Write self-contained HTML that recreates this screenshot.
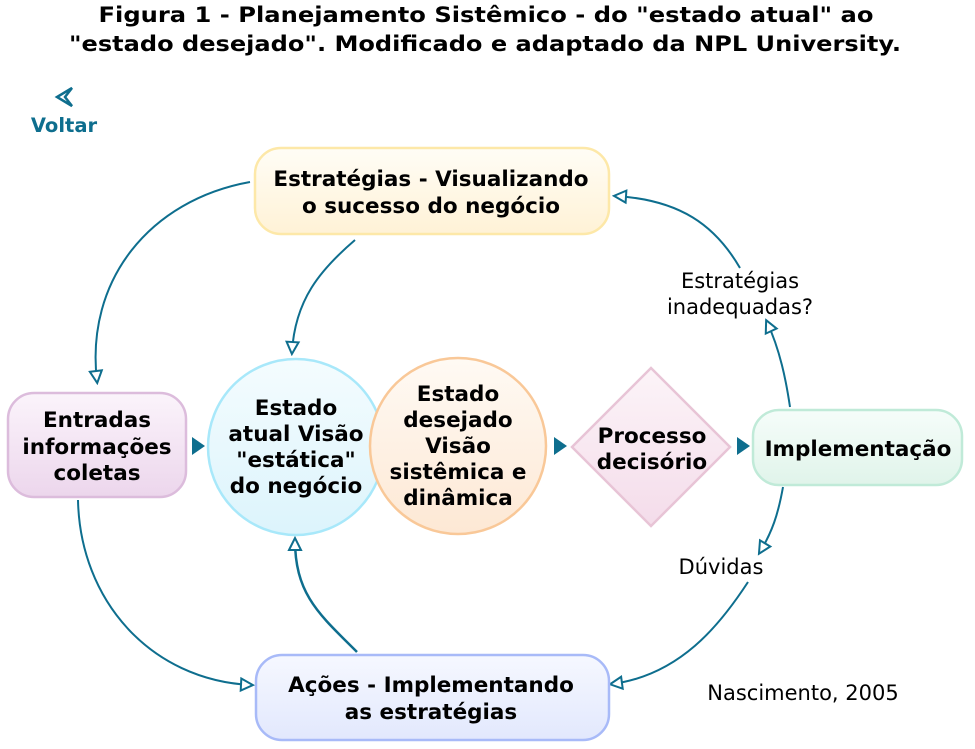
<!DOCTYPE html>
<html><head><meta charset="utf-8"><style>
html,body{margin:0;padding:0;background:#fff;}
svg{display:block;}
.b{font-family:"DejaVu Sans","Liberation Sans",sans-serif;font-weight:bold;fill:#000;}
.n{font-family:"DejaVu Sans","Liberation Sans",sans-serif;fill:#000;}
</style></head><body>
<svg width="975" height="749" viewBox="0 0 975 749" xmlns="http://www.w3.org/2000/svg">
<defs>
<linearGradient id="gy" x1="0" y1="0" x2="0" y2="1"><stop offset="0" stop-color="#fffdf6"/><stop offset="1" stop-color="#fff2d6"/></linearGradient>
<linearGradient id="gp" x1="0" y1="0" x2="0" y2="1"><stop offset="0" stop-color="#fbf4fb"/><stop offset="1" stop-color="#ecd6ec"/></linearGradient>
<linearGradient id="gc" x1="0" y1="0" x2="0" y2="1"><stop offset="0" stop-color="#f4fcfe"/><stop offset="1" stop-color="#dcf4fc"/></linearGradient>
<linearGradient id="go" x1="0" y1="0" x2="0" y2="1"><stop offset="0" stop-color="#fffaf4"/><stop offset="1" stop-color="#fde8d4"/></linearGradient>
<linearGradient id="gd" x1="0" y1="0" x2="0" y2="1"><stop offset="0" stop-color="#fcf4f8"/><stop offset="1" stop-color="#f4dcea"/></linearGradient>
<linearGradient id="gg" x1="0" y1="0" x2="0" y2="1"><stop offset="0" stop-color="#f6fdfa"/><stop offset="1" stop-color="#e0f4ea"/></linearGradient>
<linearGradient id="gb" x1="0" y1="0" x2="0" y2="1"><stop offset="0" stop-color="#f6f8ff"/><stop offset="1" stop-color="#e2e8fd"/></linearGradient>
<marker id="oa" markerWidth="16" markerHeight="16" refX="12" refY="8" orient="auto" markerUnits="userSpaceOnUse">
<path d="M2,2 L14,8 L2,14 Z" fill="#fff" stroke="#0e6e8e" stroke-width="2"/></marker>
</defs>
<text class="b" x="486" y="22" text-anchor="middle" font-size="21" textLength="775" lengthAdjust="spacingAndGlyphs">Figura 1 - Planejamento Sistêmico - do "estado atual" ao</text>
<text class="b" x="485" y="51" text-anchor="middle" font-size="21" textLength="832" lengthAdjust="spacingAndGlyphs">"estado desejado". Modificado e adaptado da NPL University.</text>
<path d="M72,88 L57,97 L72,106 L65,97 Z" fill="none" stroke="#0e6e8e" stroke-width="2.5"/>
<text class="b" x="64" y="132" text-anchor="middle" font-size="19.5" style="fill:#0e6e8e">Voltar</text>

<g fill="none" stroke="#0e6e8e" stroke-width="2">
<path d="M250,182 C150,200 85,280 97,381" marker-end="url(#oa)"/>
<path d="M355,240 C320,270 295,300 292,352" marker-end="url(#oa)"/>
<path d="M740,268 C715,225 680,200 616,196" marker-end="url(#oa)"/>
<path d="M790,407 C786,380 780,350 767,322" marker-end="url(#oa)"/>
<path d="M783,487 C778,515 772,532 760,552" marker-end="url(#oa)"/>
<path d="M748,582 C720,625 680,675 612,684" marker-end="url(#oa)"/>
<path d="M78,500 C80,600 150,680 251,685" marker-end="url(#oa)"/>
<path d="M357,652 C320,615 295,595 295,540" stroke-width="2.5" marker-end="url(#oa)"/>
</g>

<rect x="255" y="148" width="354" height="86" rx="26" fill="url(#gy)" stroke="#fde8a8" stroke-width="2.5"/>
<text class="b" x="431" y="186" text-anchor="middle" font-size="21.5">Estratégias - Visualizando</text>
<text class="b" x="431" y="213" text-anchor="middle" font-size="21.5">o sucesso do negócio</text>

<rect x="8" y="393" width="178" height="104" rx="26" fill="url(#gp)" stroke="#dcbcdc" stroke-width="2.5"/>
<text class="b" x="97" y="427" text-anchor="middle" font-size="21.5">Entradas</text>
<text class="b" x="97" y="454" text-anchor="middle" font-size="21.5">informações</text>
<text class="b" x="97" y="480" text-anchor="middle" font-size="21.5">coletas</text>

<circle cx="296" cy="447" r="88" fill="url(#gc)" stroke="#a8e8fa" stroke-width="2.5"/>
<text class="b" x="296" y="415" text-anchor="middle" font-size="21.5">Estado</text>
<text class="b" x="296" y="441" text-anchor="middle" font-size="21.5">atual Visão</text>
<text class="b" x="296" y="467" text-anchor="middle" font-size="21.5">"estática"</text>
<text class="b" x="296" y="493" text-anchor="middle" font-size="21.5">do negócio</text>

<circle cx="458" cy="446" r="88" fill="url(#go)" stroke="#f9c898" stroke-width="2.5"/>
<text class="b" x="458" y="401" text-anchor="middle" font-size="21.5">Estado</text>
<text class="b" x="458" y="427" text-anchor="middle" font-size="21.5">desejado</text>
<text class="b" x="458" y="453" text-anchor="middle" font-size="21.5">Visão</text>
<text class="b" x="458" y="479" text-anchor="middle" font-size="21.5">sistêmica e</text>
<text class="b" x="458" y="505" text-anchor="middle" font-size="21.5">dinâmica</text>

<path d="M651,368 L730,447 L651,526 L572,447 Z" fill="url(#gd)" stroke="#e8c4d6" stroke-width="2.5"/>
<text class="b" x="652" y="443" text-anchor="middle" font-size="21.5">Processo</text>
<text class="b" x="652" y="469" text-anchor="middle" font-size="21.5">decisório</text>

<rect x="753" y="410" width="209" height="75" rx="26" fill="url(#gg)" stroke="#c0ead8" stroke-width="2.5"/>
<text class="b" x="858" y="456" text-anchor="middle" font-size="21.5">Implementação</text>

<rect x="256" y="655" width="353" height="85" rx="26" fill="url(#gb)" stroke="#a8baf8" stroke-width="2.5"/>
<text class="b" x="431" y="692" text-anchor="middle" font-size="21.5">Ações - Implementando</text>
<text class="b" x="431" y="719" text-anchor="middle" font-size="21.5">as estratégias</text>

<path d="M192,437 L205,446 L192,455 Z" fill="#0e6e8e"/>
<path d="M554,437 L567,446 L554,455 Z" fill="#0e6e8e"/>
<path d="M737,437 L750,446 L737,455 Z" fill="#0e6e8e"/>

<text class="n" x="740" y="288" text-anchor="middle" font-size="21">Estratégias</text>
<text class="n" x="740" y="314" text-anchor="middle" font-size="21">inadequadas?</text>
<text class="n" x="721" y="574" text-anchor="middle" font-size="21">Dúvidas</text>
<text class="n" x="803" y="700" text-anchor="middle" font-size="21">Nascimento, 2005</text>
</svg>
</body></html>
